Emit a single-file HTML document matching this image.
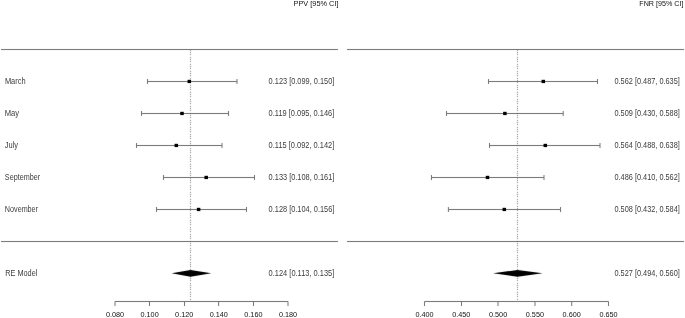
<!DOCTYPE html>
<html><head><meta charset="utf-8"><title>Forest plots: PPV and FNR</title><style>
html,body{margin:0;padding:0;background:#fff;width:685px;height:318px;overflow:hidden}
svg{display:block;filter:grayscale(1)}
text{font-family:"Liberation Sans",sans-serif;fill:#3c3c3c}
.ax{fill:#111}
.l{stroke:#707070;stroke-width:1;fill:none}
.d{stroke:#7a7a7a;stroke-width:1;fill:none}
</style></head><body>
<svg width="685" height="318" viewBox="0 0 685 318">
<defs><filter id="dz" filterUnits="userSpaceOnUse" x="0" y="0" width="685" height="318" color-interpolation-filters="sRGB"><feConvolveMatrix order="3" kernelMatrix="0.01 0.1 0.01 0.08 0.6 0.08 0.01 0.1 0.01" divisor="1" edgeMode="none"/></filter><filter id="k" filterUnits="userSpaceOnUse" x="0" y="0" width="685" height="318" color-interpolation-filters="sRGB"><feConvolveMatrix order="3" kernelMatrix="0.0016 0.0368 0.0016 0.0368 0.8464 0.0368 0.0016 0.0368 0.0016" divisor="1" edgeMode="none"/></filter></defs>
<g filter="url(#dz)">
<path d="M190.5 50v1M190.5 52v1M190.5 54v1M190.5 57v1M190.5 59v1M190.5 61v1M190.5 64v1M190.5 66v1M190.5 68v1M190.5 71v1M190.5 73v1M190.5 75v1M190.5 78v1M190.5 80v1M190.5 82v1M190.5 85v1M190.5 87v1M190.5 89v1M190.5 92v1M190.5 94v1M190.5 96v1M190.5 99v1M190.5 101v1M190.5 103v1M190.5 106v1M190.5 108v1M190.5 110v1M190.5 113v1M190.5 115v1M190.5 117v1M190.5 120v1M190.5 122v1M190.5 124v1M190.5 127v1M190.5 129v1M190.5 131v1M190.5 134v1M190.5 136v1M190.5 138v1M190.5 141v1M190.5 143v1M190.5 145v1M190.5 148v1M190.5 150v1M190.5 152v1M190.5 155v1M190.5 157v1M190.5 159v1M190.5 161v1M190.5 164v1M190.5 166v1M190.5 168v1M190.5 171v1M190.5 173v1M190.5 175v1M190.5 178v1M190.5 180v1M190.5 182v1M190.5 185v1M190.5 187v1M190.5 189v1M190.5 192v1M190.5 194v1M190.5 196v1M190.5 199v1M190.5 201v1M190.5 203v1M190.5 206v1M190.5 208v1M190.5 210v1M190.5 213v1M190.5 215v1M190.5 217v1M190.5 220v1M190.5 222v1M190.5 224v1M190.5 227v1M190.5 229v1M190.5 231v1M190.5 234v1M190.5 236v1M190.5 238v1M190.5 241v1M190.5 243v1M190.5 245v1M190.5 248v1M190.5 250v1M190.5 252v1M190.5 255v1M190.5 257v1M190.5 259v1M190.5 262v1M190.5 264v1M190.5 266v1M190.5 269v1M190.5 271v1M190.5 273v1M190.5 276v1M190.5 278v1M190.5 280v1M190.5 283v1M190.5 285v1M190.5 287v1M190.5 289v1M190.5 292v1M190.5 294v1M190.5 296v1M190.5 299v1" class="d"/>
<path d="M517.5 50v1M517.5 52v1M517.5 54v1M517.5 57v1M517.5 59v1M517.5 61v1M517.5 64v1M517.5 66v1M517.5 68v1M517.5 71v1M517.5 73v1M517.5 75v1M517.5 78v1M517.5 80v1M517.5 82v1M517.5 85v1M517.5 87v1M517.5 89v1M517.5 92v1M517.5 94v1M517.5 96v1M517.5 99v1M517.5 101v1M517.5 103v1M517.5 106v1M517.5 108v1M517.5 110v1M517.5 113v1M517.5 115v1M517.5 117v1M517.5 120v1M517.5 122v1M517.5 124v1M517.5 127v1M517.5 129v1M517.5 131v1M517.5 134v1M517.5 136v1M517.5 138v1M517.5 141v1M517.5 143v1M517.5 145v1M517.5 148v1M517.5 150v1M517.5 152v1M517.5 155v1M517.5 157v1M517.5 159v1M517.5 161v1M517.5 164v1M517.5 166v1M517.5 168v1M517.5 171v1M517.5 173v1M517.5 175v1M517.5 178v1M517.5 180v1M517.5 182v1M517.5 185v1M517.5 187v1M517.5 189v1M517.5 192v1M517.5 194v1M517.5 196v1M517.5 199v1M517.5 201v1M517.5 203v1M517.5 206v1M517.5 208v1M517.5 210v1M517.5 213v1M517.5 215v1M517.5 217v1M517.5 220v1M517.5 222v1M517.5 224v1M517.5 227v1M517.5 229v1M517.5 231v1M517.5 234v1M517.5 236v1M517.5 238v1M517.5 241v1M517.5 243v1M517.5 245v1M517.5 248v1M517.5 250v1M517.5 252v1M517.5 255v1M517.5 257v1M517.5 259v1M517.5 262v1M517.5 264v1M517.5 266v1M517.5 269v1M517.5 271v1M517.5 273v1M517.5 276v1M517.5 278v1M517.5 280v1M517.5 283v1M517.5 285v1M517.5 287v1M517.5 289v1M517.5 292v1M517.5 294v1M517.5 296v1M517.5 299v1" class="d"/>
</g>
<g filter="url(#k)">
<path d="M1 49.5H338M1 241.5H338" class="l"/>
<path d="M147.50 81.5H237.00M147.50 79.0V84.0M237.00 79.0V84.0" class="l"/>
<path d="M141.50 113.5H228.50M141.50 111.0V116.0M228.50 111.0V116.0" class="l"/>
<path d="M136.50 145.5H222.00M136.50 143.0V148.0M222.00 143.0V148.0" class="l"/>
<path d="M163.50 177.5H254.50M163.50 175.0V180.0M254.50 175.0V180.0" class="l"/>
<path d="M156.50 209.5H246.50M156.50 207.0V212.0M246.50 207.0V212.0" class="l"/>
<path d="M171.60 273.3L190.50 269.95L211.30 273.3L190.50 276.65Z"/>
<path d="M115.00 301.5H288.00M115.00 301.5V306M149.50 301.5V306M184.50 301.5V306M218.60 301.5V306M253.50 301.5V306M288.00 301.5V306" class="l"/>
<path d="M347 49.5H684M347 241.5H684" class="l"/>
<path d="M488.50 81.5H597.50M488.50 79.0V84.0M597.50 79.0V84.0" class="l"/>
<path d="M446.50 113.5H563.20M446.50 111.0V116.0M563.20 111.0V116.0" class="l"/>
<path d="M489.50 145.5H600.00M489.50 143.0V148.0M600.00 143.0V148.0" class="l"/>
<path d="M431.50 177.5H544.00M431.50 175.0V180.0M544.00 175.0V180.0" class="l"/>
<path d="M448.40 209.5H560.50M448.40 207.0V212.0M560.50 207.0V212.0" class="l"/>
<path d="M493.10 273.3L517.50 269.95L542.60 273.3L517.50 276.65Z"/>
<path d="M424.50 301.5H608.50M424.50 301.5V306M461.50 301.5V306M498.00 301.5V306M535.00 301.5V306M571.70 301.5V306M608.50 301.5V306" class="l"/>
</g>
<g>
<text x="293.50" y="6" font-size="7.25" textLength="45.03" lengthAdjust="spacingAndGlyphs" class="ax">PPV [95% CI]</text>
<rect x="187.55" y="79.80" width="3.5" height="3.3"/>
<text x="268.61" y="84.0" font-size="8.25" textLength="65.72" lengthAdjust="spacingAndGlyphs">0.123 [0.099, 0.150]</text>
<text x="4.89" y="84.0" font-size="8.25" textLength="20.69" lengthAdjust="spacingAndGlyphs">March</text>
<rect x="180.25" y="111.80" width="3.5" height="3.3"/>
<text x="268.61" y="116.0" font-size="8.25" textLength="65.72" lengthAdjust="spacingAndGlyphs">0.119 [0.095, 0.146]</text>
<text x="4.68" y="116.0" font-size="8.25" textLength="14.34" lengthAdjust="spacingAndGlyphs">May</text>
<rect x="174.55" y="143.80" width="3.5" height="3.3"/>
<text x="268.61" y="148.0" font-size="8.25" textLength="65.72" lengthAdjust="spacingAndGlyphs">0.115 [0.092, 0.142]</text>
<text x="4.78" y="148.0" font-size="8.25" textLength="13.23" lengthAdjust="spacingAndGlyphs">July</text>
<rect x="204.45" y="175.80" width="3.5" height="3.3"/>
<text x="268.61" y="180.0" font-size="8.25" textLength="65.72" lengthAdjust="spacingAndGlyphs">0.133 [0.108, 0.161]</text>
<text x="4.87" y="180.0" font-size="8.25" textLength="35.25" lengthAdjust="spacingAndGlyphs">September</text>
<rect x="196.85" y="207.80" width="3.5" height="3.3"/>
<text x="268.61" y="212.0" font-size="8.25" textLength="65.72" lengthAdjust="spacingAndGlyphs">0.128 [0.104, 0.156]</text>
<text x="4.87" y="212.0" font-size="8.25" textLength="33.15" lengthAdjust="spacingAndGlyphs">November</text>
<text x="268.61" y="276" font-size="8.25" textLength="65.72" lengthAdjust="spacingAndGlyphs">0.124 [0.113, 0.135]</text>
<text x="5.20" y="276" font-size="8.25" textLength="32.19" lengthAdjust="spacingAndGlyphs">RE Model</text>
<text x="115.00" y="316.6" font-size="7.25" text-anchor="middle" class="ax">0.080</text>
<text x="149.60" y="316.6" font-size="7.25" text-anchor="middle" class="ax">0.100</text>
<text x="184.20" y="316.6" font-size="7.25" text-anchor="middle" class="ax">0.120</text>
<text x="218.80" y="316.6" font-size="7.25" text-anchor="middle" class="ax">0.140</text>
<text x="253.40" y="316.6" font-size="7.25" text-anchor="middle" class="ax">0.160</text>
<text x="288.00" y="316.6" font-size="7.25" text-anchor="middle" class="ax">0.180</text>
<text x="639.31" y="6" font-size="7.25" textLength="44.20" lengthAdjust="spacingAndGlyphs" class="ax">FNR [95% CI]</text>
<rect x="541.55" y="79.80" width="3.5" height="3.3"/>
<text x="614.51" y="84.0" font-size="8.25" textLength="65.31" lengthAdjust="spacingAndGlyphs">0.562 [0.487, 0.635]</text>
<rect x="503.15" y="111.80" width="3.5" height="3.3"/>
<text x="614.51" y="116.0" font-size="8.25" textLength="65.31" lengthAdjust="spacingAndGlyphs">0.509 [0.430, 0.588]</text>
<rect x="543.55" y="143.80" width="3.5" height="3.3"/>
<text x="614.51" y="148.0" font-size="8.25" textLength="65.31" lengthAdjust="spacingAndGlyphs">0.564 [0.488, 0.638]</text>
<rect x="485.75" y="175.80" width="3.5" height="3.3"/>
<text x="614.51" y="180.0" font-size="8.25" textLength="65.31" lengthAdjust="spacingAndGlyphs">0.486 [0.410, 0.562]</text>
<rect x="502.55" y="207.80" width="3.5" height="3.3"/>
<text x="614.51" y="212.0" font-size="8.25" textLength="65.31" lengthAdjust="spacingAndGlyphs">0.508 [0.432, 0.584]</text>
<text x="614.51" y="276" font-size="8.25" textLength="65.31" lengthAdjust="spacingAndGlyphs">0.527 [0.494, 0.560]</text>
<text x="424.50" y="316.6" font-size="7.25" text-anchor="middle" class="ax">0.400</text>
<text x="461.30" y="316.6" font-size="7.25" text-anchor="middle" class="ax">0.450</text>
<text x="498.10" y="316.6" font-size="7.25" text-anchor="middle" class="ax">0.500</text>
<text x="534.90" y="316.6" font-size="7.25" text-anchor="middle" class="ax">0.550</text>
<text x="571.70" y="316.6" font-size="7.25" text-anchor="middle" class="ax">0.600</text>
<text x="608.50" y="316.6" font-size="7.25" text-anchor="middle" class="ax">0.650</text>
</g>
</svg>
</body></html>
